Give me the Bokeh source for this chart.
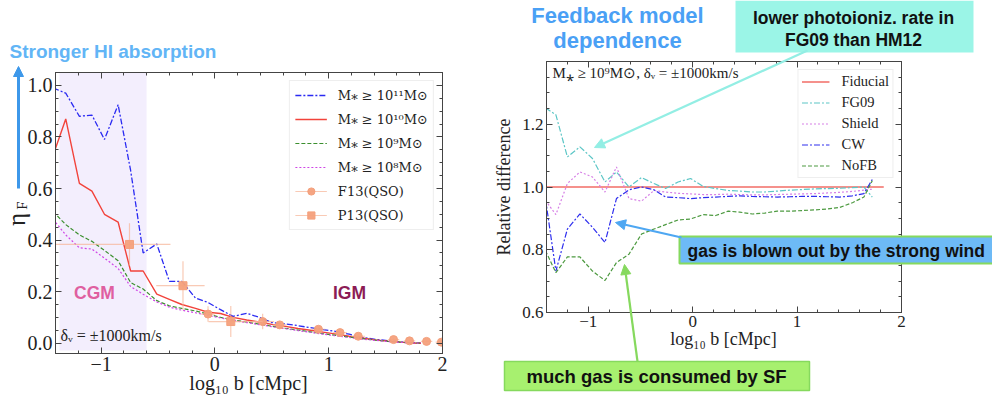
import math
from jinja2 import Template
from bokeh.plotting import figure
from bokeh.models import (Range1d, LinearAxis, SingleIntervalTicker, Label, Arrow,
                          NormalHead, Legend, LegendItem, CustomJSTickFormatter)
from bokeh.embed import file_html
from bokeh.resources import INLINE

# ---------------- data: left panel (eta_F vs log10 b) ----------------
log_b = [-1.42, -1.31, -1.19, -1.08, -0.97, -0.85, -0.74, -0.63, -0.51, -0.40,
         -0.29, -0.17, -0.06, 0.05, 0.16, 0.28, 0.39, 0.50, 0.62, 0.73,
         0.84, 0.95, 1.07, 1.18, 1.29, 1.41, 1.52, 1.63, 1.74, 1.81]
eta_m11 = [0.99, 0.97, 0.88, 0.885, 0.79, 0.925, 0.67, 0.35, 0.385, 0.24,
           0.24, 0.175, 0.158, 0.13, 0.104, 0.116, 0.10, 0.08, 0.075, 0.068,
           0.06, 0.053, 0.045, 0.035, 0.023, 0.015, 0.01, 0.005, 0.002, 0.0]
eta_m10 = [0.73, 0.87, 0.62, 0.59, 0.50, 0.47, 0.28, 0.28, 0.19, 0.17,
           0.15, 0.135, 0.12, 0.115, 0.10, 0.09, 0.082, 0.073, 0.065, 0.057,
           0.05, 0.043, 0.035, 0.027, 0.02, 0.013, 0.008, 0.004, 0.001, 0.0]
eta_m9 = [0.51, 0.46, 0.42, 0.395, 0.36, 0.32, 0.235, 0.21, 0.165, 0.145,
          0.135, 0.125, 0.113, 0.10, 0.09, 0.082, 0.074, 0.066, 0.058, 0.051,
          0.044, 0.037, 0.03, 0.024, 0.018, 0.012, 0.007, 0.004, 0.001, 0.0]
eta_m8 = [0.48, 0.42, 0.37, 0.365, 0.33, 0.29, 0.22, 0.19, 0.16, 0.14,
          0.128, 0.118, 0.108, 0.098, 0.088, 0.08, 0.072, 0.064, 0.056, 0.049,
          0.042, 0.035, 0.028, 0.022, 0.016, 0.011, 0.006, 0.003, 0.001, 0.0]
sim_labels = ["M\u204e \u2265 10\u00b9\u00b9M\u2299", "M\u204e \u2265 10\u00b9\u2070M\u2299",
              "M\u204e \u2265 10\u2079M\u2299", "M\u204e \u2265 10\u2078M\u2299"]

f13_x = [-0.06, 0.42, 0.57, 0.91, 1.10, 1.26, 1.57, 1.71, 1.86, 1.99]
f13_y = [0.113, 0.084, 0.071, 0.054, 0.041, 0.027, 0.014, 0.009, 0.007, 0.004]
f13_xerr = [0.06, 0.10, 0.06, 0.06, 0.06, 0.06, 0.05, 0.05, 0.05, 0.05]
f13_yerr = [0.03, 0.03, 0.012, 0.01, 0.01, 0.01, 0.005, 0.005, 0.004, 0.004]
p13_x = [-0.75, -0.28, 0.14]
p13_y = [0.383, 0.223, 0.084]
p13_xlo = [-1.42, -0.515, -0.056]
p13_xhi = [-0.39, -0.09, 0.42]
p13_yerr = [0.082, 0.095, 0.06]

# ---------------- data: right panel (relative difference) ----------------
log_b_r = [-1.41, -1.31, -1.20, -1.08, -0.96, -0.84, -0.73, -0.61, -0.49, -0.37,
           -0.26, -0.14, -0.02, 0.10, 0.22, 0.34, 0.45, 0.57, 0.69, 0.81,
           0.93, 1.05, 1.17, 1.29, 1.41, 1.53, 1.64, 1.72]
fid_x = [-1.41, 1.83]
fid_y = [1.0, 1.0]
rd_fg09 = [1.252, 1.23, 1.096, 1.128, 1.091, 1.016, 1.048, 1.0, 1.03, 1.011,
           0.995, 1.016, 1.027, 1.002, 0.995, 0.989, 0.987, 0.984, 0.984, 0.987,
           0.99, 0.992, 0.994, 0.995, 0.996, 0.998, 1.0, 0.968]
rd_shield = [0.957, 0.912, 1.011, 1.048, 1.032, 0.984, 1.064, 0.963, 0.955, 0.989,
             0.984, 0.98, 0.978, 0.976, 0.976, 0.977, 0.976, 0.975, 0.975, 0.976,
             0.977, 0.978, 0.979, 0.981, 0.983, 0.986, 0.99, 0.993]
rd_cw = [0.963, 0.732, 0.866, 0.914, 0.872, 0.823, 0.963, 0.991, 1.0, 0.991,
         0.968, 0.966, 0.963, 0.966, 0.968, 0.97, 0.972, 0.97, 0.969, 0.968,
         0.969, 0.97, 0.97, 0.969, 0.968, 0.972, 0.979, 1.024]
rd_nofb = [0.797, 0.727, 0.777, 0.777, 0.732, 0.702, 0.759, 0.786, 0.85, 0.866,
           0.88, 0.895, 0.898, 0.912, 0.909, 0.923, 0.92, 0.914, 0.917, 0.923,
           0.923, 0.925, 0.927, 0.93, 0.935, 0.95, 0.968, 1.02]
model_labels = ["Fiducial", "FG09", "Shield", "CW", "NoFB"]

# ---------------- layout constants ----------------
H = 397
W_PAGE = 992
W1, W2 = 470, 522
X_RANGE = (-1.4, 2.0)
Y1_RANGE = (-0.04, 1.05)
Y2_RANGE = (0.6, 1.4)
B1 = (55, 28, 72, 44)   # left, right, top, bottom borders of left panel
B2 = (76, 91, 61, 85)   # same for right panel
SERIF = "Liberation Serif"
SERIF2 = "DejaVu Serif"
SANS = "Liberation Sans"
DASHDOT = "6 2 2 2"
DASHED = "4 2"
DOTTED = "2 2"


def mapper(w, borders, yr):
    l, r, t, b = borders
    fw, fh = w - l - r, H - t - b

    def f(px, py):
        x = X_RANGE[0] + (px - l) * (X_RANGE[1] - X_RANGE[0]) / fw
        y = yr[1] - (py - t) * (yr[1] - yr[0]) / fh
        return x, y
    return f


def make_fig(w, borders, yr, yint, tick_px, name):
    l, r, t, b = borders
    p = figure(width=w, height=H, x_range=Range1d(*X_RANGE), y_range=Range1d(*yr),
               output_backend="svg", toolbar_location=None, name=name,
               x_axis_location=None, y_axis_location=None,
               min_border_left=l, min_border_right=r,
               min_border_top=t, min_border_bottom=b)
    p.grid.visible = False
    p.outline_line_color = "#444444"
    p.outline_line_width = 1
    p.border_fill_alpha = 0
    xt = SingleIntervalTicker(interval=1, num_minor_ticks=5)
    yt = SingleIntervalTicker(interval=yint, num_minor_ticks=4)
    xfmt = CustomJSTickFormatter(code="return (tick < -1e-9 ? '\u2212' : '') + Math.abs(tick).toFixed(0);")
    yfmt = CustomJSTickFormatter(code="return tick.toFixed(1);")
    for loc, ticker, fmt in [("below", xt, xfmt), ("left", yt, yfmt),
                             ("above", xt, None), ("right", yt, None)]:
        ax = LinearAxis(ticker=ticker)
        if fmt is not None:
            ax.formatter = fmt
            ax.major_label_text_font = SERIF
            ax.major_label_text_font_size = tick_px
            ax.major_label_text_color = "#222222"
            ax.major_label_standoff = 3
        else:
            ax.formatter = CustomJSTickFormatter(code="return '';")
            ax.major_label_text_font_size = "1px"
            ax.major_label_standoff = 0
        ax.major_tick_in = 6
        ax.major_tick_out = 0
        ax.minor_tick_in = 3
        ax.minor_tick_out = 0
        ax.axis_line_color = "#444444"
        ax.major_tick_line_color = "#444444"
        ax.minor_tick_line_color = "#444444"
        p.add_layout(ax, loc)
    return p


def add_label(p, x, y, text, font=SERIF, size="16px", color="#222222", style="normal",
              align="center", baseline="middle", angle=0.0, **kw):
    lab = Label(x=x, y=y, text=text, text_font=font, text_font_size=size,
                text_color=color, text_font_style=style, text_align=align,
                text_baseline=baseline, angle=angle, **kw)
    p.add_layout(lab)
    return lab


# ======================= left panel =======================
p1 = make_fig(W1, B1, Y1_RANGE, 0.2, "20px", "left_panel")
m1 = mapper(W1, B1, Y1_RANGE)

p1.quad(left=[-1.365], right=[-0.6], bottom=[-0.028], top=[1.06],
        fill_color="#f3eefd", line_color=None)

r11 = p1.line(log_b, eta_m11, line_color="#2a2af2", line_width=1.3, line_dash=DASHDOT)
r10 = p1.line(log_b, eta_m10, line_color="#f2433b", line_width=1.4)
r9 = p1.line(log_b, eta_m9, line_color="#3b8f2e", line_width=1.2, line_dash=DASHED)
r8 = p1.line(log_b, eta_m8, line_color="#cf45e6", line_width=1.2, line_dash=DOTTED)

OBS = "#f4a07c"
ERR = "#f6b395"
f13_xs = p1.segment(x0=[x - e for x, e in zip(f13_x, f13_xerr)], y0=f13_y,
                    x1=[x + e for x, e in zip(f13_x, f13_xerr)], y1=f13_y,
                    line_color=ERR, line_width=1.2, line_alpha=0.7)
p1.segment(x0=f13_x, y0=[y - e for y, e in zip(f13_y, f13_yerr)],
           x1=f13_x, y1=[y + e for y, e in zip(f13_y, f13_yerr)],
           line_color=ERR, line_width=1.2, line_alpha=0.7)
f13_pts = p1.scatter(f13_x, f13_y, marker="circle", size=8, fill_color=OBS,
                     line_color=OBS, fill_alpha=0.95)
p13_xs = p1.segment(x0=p13_xlo, y0=p13_y, x1=p13_xhi, y1=p13_y,
                    line_color=ERR, line_width=1.2, line_alpha=0.7)
p1.segment(x0=p13_x, y0=[y - e for y, e in zip(p13_y, p13_yerr)],
           x1=p13_x, y1=[y + e for y, e in zip(p13_y, p13_yerr)],
           line_color=ERR, line_width=1.2, line_alpha=0.7)
p13_pts = p1.scatter(p13_x, p13_y, marker="square", size=8, fill_color=OBS,
                     line_color=OBS, fill_alpha=0.95)

leg1 = Legend(items=[
    LegendItem(label=sim_labels[0], renderers=[r11]),
    LegendItem(label=sim_labels[1], renderers=[r10]),
    LegendItem(label=sim_labels[2], renderers=[r9]),
    LegendItem(label=sim_labels[3], renderers=[r8]),
    LegendItem(label="F13(QSO)", renderers=[f13_xs, f13_pts]),
    LegendItem(label="P13(QSO)", renderers=[p13_xs, p13_pts]),
], location="top_right")
leg1.label_text_font = SERIF2
leg1.label_text_font_size = "13px"
leg1.label_text_color = "#222222"
leg1.glyph_width = 32
leg1.glyph_height = 18
leg1.label_height = 18
leg1.spacing = 6
leg1.padding = 5
leg1.margin = 8
leg1.label_standoff = 11
leg1.border_line_color = "#dddddd"
leg1.background_fill_alpha = 0.9
p1.add_layout(leg1)

x, y = m1(94, 292)
add_label(p1, x, y, "CGM", font=SANS, size="17.5px", color="#df5fa0", style="bold")
x, y = m1(349, 292)
add_label(p1, x, y, "IGM", font=SANS, size="17.5px", color="#8c1c55", style="bold")
x, y = m1(60, 335)
add_label(p1, x, y, "\u03b4\u1d65 = \u00b11000km/s", size="16px", align="left")

# ======================= right panel =======================
p2 = make_fig(W2, B2, Y2_RANGE, 0.2, "17px", "right_panel")
m2 = mapper(W2, B2, Y2_RANGE)
OFF = W1  # page x offset of the right figure

rf = p2.line(fid_x, fid_y, line_color="#f26c66", line_width=1.5)
rg = p2.line(log_b_r, rd_fg09, line_color="#5cc6c6", line_width=1.2, line_dash=DASHDOT)
rs = p2.line(log_b_r, rd_shield, line_color="#d67fe6", line_width=1.2, line_dash=DOTTED)
rc = p2.line(log_b_r, rd_cw, line_color="#2e2eee", line_width=1.2, line_dash=DASHDOT)
rn = p2.line(log_b_r, rd_nofb, line_color="#4d9a40", line_width=1.2, line_dash=DASHED)

leg2 = Legend(items=[LegendItem(label=lab, renderers=[r]) for lab, r in
                     zip(model_labels, [rf, rg, rs, rc, rn])], location="top_right")
leg2.label_text_font = SERIF
leg2.label_text_font_size = "14.5px"
leg2.label_text_color = "#222222"
leg2.glyph_width = 28
leg2.glyph_height = 17
leg2.label_height = 17
leg2.spacing = 4
leg2.padding = 3
leg2.margin = 8
leg2.label_standoff = 12
leg2.border_line_color = "#dddddd"
leg2.background_fill_alpha = 0.9
p2.add_layout(leg2)

p2.yaxis[0].axis_label = "Relative difference"
p2.yaxis[0].axis_label_text_font = SERIF
p2.yaxis[0].axis_label_text_font_size = "18px"
p2.yaxis[0].axis_label_text_font_style = "normal"
p2.yaxis[0].axis_label_text_color = "#222222"
p2.yaxis[0].axis_label_standoff = 5

x, y = m2(552 - OFF, 72)
add_label(p2, x, y, "M\u204e \u2265 10\u2079M\u2299, \u03b4\u1d65 = \u00b11000km/s", size="15px",
          align="left")

# ======================= overlay (annotations spanning the page) =======================
ov = figure(width=W_PAGE, height=H, x_range=Range1d(0, W_PAGE), y_range=Range1d(H, 0),
            output_backend="svg", toolbar_location=None, name="overlay",
            x_axis_location=None, y_axis_location=None,
            min_border_left=0, min_border_right=0, min_border_top=0, min_border_bottom=0)
ov.background_fill_alpha = 0
ov.border_fill_alpha = 0
ov.outline_line_color = None
ov.grid.visible = False

# arrows
ARROWS = [(18, 188, 18, 66, "#3d98ea", 3.0),
          (807, 50, 594, 147, "#93eee4", 2.2),
          (681, 237, 615, 222, "#4ea7f2", 2.2),
          (637, 361, 624, 264, "#86d95e", 2.2)]
for sx, sy, ex, ey, col, lw in ARROWS:
    ov.add_layout(Arrow(x_start=sx, y_start=sy, x_end=ex, y_end=ey, line_color=col,
                        line_width=lw, end=NormalHead(size=10, fill_color=col, line_color=col)))

# boxes
ov.quad(left=[735], right=[973], top=[0], bottom=[52], fill_color="#9bf5e7", line_color=None)
ov.quad(left=[679], right=[995], top=[236], bottom=[263], fill_color="#6dbaf6",
        line_color="#86d95e", line_width=2)
ov.quad(left=[504], right=[809], top=[361], bottom=[390], fill_color="#a7f06f",
        line_color="#86d95e", line_width=1.5)

BOLD = dict(font=SANS, style="bold", color="#111111")
add_label(ov, 853, 17, "lower photoioniz. rate in", size="17.5px", **BOLD)
add_label(ov, 853, 39, "FG09 than HM12", size="17.5px", **BOLD)
add_label(ov, 687, 250, "gas is blown out by the strong wind", size="17.5px", align="left", **BOLD)
add_label(ov, 656, 376, "much gas is consumed by SF", size="18.5px", **BOLD)

add_label(ov, 9, 51, "Stronger HI absorption", font=SANS, size="19px", color="#62b5f6",
          style="bold", align="left")
add_label(ov, 617, 15, "Feedback model", font=SANS, size="22px", color="#4aa0f5", style="bold")
add_label(ov, 617, 40, "dependence", font=SANS, size="22px", color="#4aa0f5", style="bold")

# axis titles drawn at their page positions
add_label(ov, 248, 382, "log\u2081\u2080 b [cMpc]", size="20px")
add_label(ov, 723, 338, "log\u2081\u2080 b [cMpc]", size="18px")
add_label(ov, 16, 219, "\u03b7", size="25px", angle=math.pi / 2)
add_label(ov, 21, 205, "F", size="15px", angle=math.pi / 2)

PAGE = Template("""{% from macros import embed %}<!DOCTYPE html>
<html lang="en">
<head>
<meta charset="utf-8">
<title>eta_F</title>
<style>html, body { margin: 0; padding: 0; background: #ffffff; }</style>
{{ bokeh_css if bokeh_css }}
{{ bokeh_js if bokeh_js }}
</head>
<body>
<div style="position:absolute; left:0px; top:0px;">{{ embed(roots[0]) }}</div>
<div style="position:absolute; left:""" + str(W1) + """px; top:0px;">{{ embed(roots[1]) }}</div>
<div style="position:absolute; left:0px; top:0px;">{{ embed(roots[2]) }}</div>
{{ plot_script }}
</body>
</html>
""")

open("out.html", "w").write(file_html([p1, p2, ov], INLINE, template=PAGE))
